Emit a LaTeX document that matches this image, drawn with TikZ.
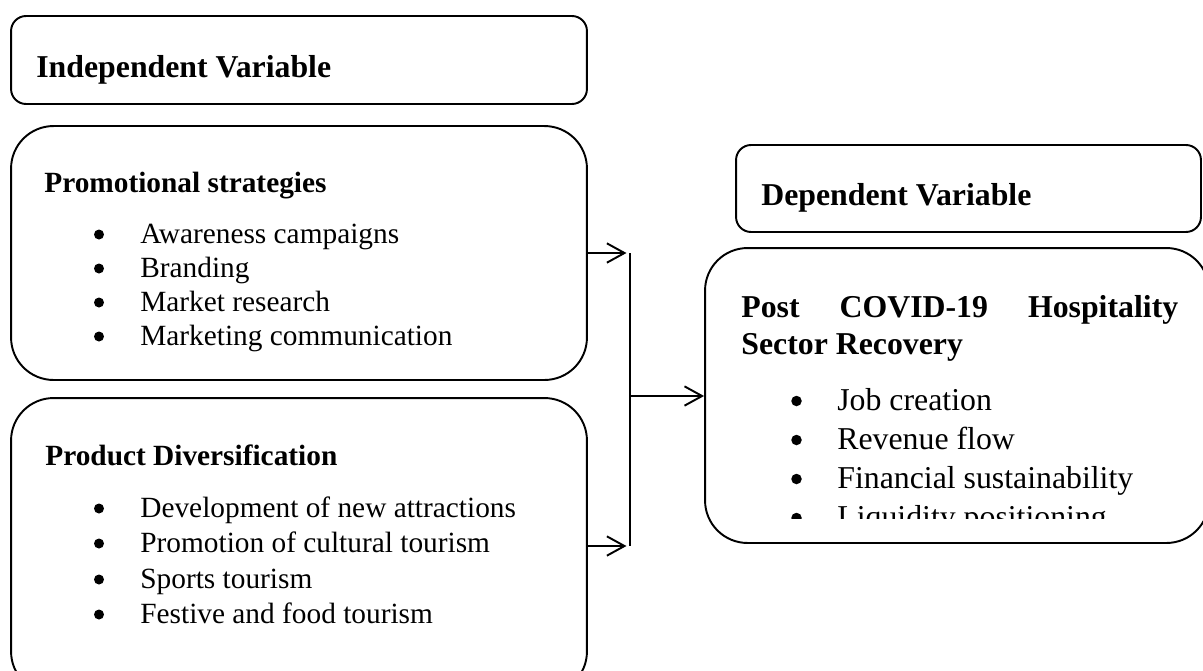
\documentclass[tikz,border=0pt]{standalone}
\usepackage{fontspec}
\setmainfont{Liberation Serif}
\usetikzlibrary{arrows.meta}

\begin{document}
\begin{tikzpicture}[
    x=0.02cm, y=-0.02cm,
    caja/.style={draw, line width=1.1pt, rounded corners=0.3cm},
    bloque/.style={draw, line width=1.1pt, rounded corners=0.85cm},
    titulo/.style={anchor=base west, inner sep=0pt, font=\bfseries\fontsize{18.1}{22}\selectfont},
    subtitulo/.style={anchor=base west, inner sep=0pt, font=\bfseries\fontsize{16.7}{20}\selectfont},
    punto/.style={anchor=base west, inner sep=0pt, font=\fontsize{16.7}{20}\selectfont},
    puntog/.style={anchor=base west, inner sep=0pt, font=\fontsize{18.1}{22}\selectfont},
    flecha/.style={-{Straight Barb[length=10pt, width=11pt]}, line width=1.1pt}
]
\clip (0,0) rectangle (1203,670);

% variable independiente
\node[caja, minimum width=11.52cm, minimum height=1.76cm] (vi) at (299,60) {};
\node[titulo] (tvi) at (36,77) {Independent Variable};

\node[bloque, minimum width=11.52cm, minimum height=5.08cm] (prom) at (299,253) {};
\node[subtitulo] (tprom) at (44,192) {Promotional strategies};
\node[punto] (p1) at (140,243) {Awareness campaigns};
\node[punto] (p2) at (140,277) {Branding};
\node[punto] (p3) at (140,311) {Market research};
\node[punto] (p4) at (140,345) {Marketing communication};

\node[bloque, minimum width=11.52cm, minimum height=5.92cm] (prod) at (299,546) {};
\node[subtitulo] (tprod) at (45,465) {Product Diversification};
\node[punto] (d1) at (140,517) {Development of new attractions};
\node[punto] (d2) at (140,552) {Promotion of cultural tourism};
\node[punto] (d3) at (140,588) {Sports tourism};
\node[punto] (d4) at (140,623) {Festive and food tourism};

% variable dependiente
\node[caja, minimum width=9.3cm, minimum height=1.74cm] (vd) at (968.5,188.5) {};
\node[titulo] (tvd) at (761,205) {Dependent Variable};

\node[bloque, minimum width=10.08cm, minimum height=5.9cm] (post) at (957,395.5) {};
\node[titulo] (tpost1) at (741,317) {\makebox[8.74cm][s]{Post\hfill COVID-19\hfill Hospitality}};
\node[titulo] (tpost2) at (741,354) {Sector Recovery};
\node[puntog] (r1) at (837,410) {Job creation};
\node[puntog] (r2) at (837,449) {Revenue flow};
\node[puntog] (r3) at (837,488) {Financial sustainability};
\begin{scope}
\clip (700,250) rectangle (1203,518);
\node[puntog] (r4) at (837,527) {Liquidity positioning};
\fill (796.5,518) circle[radius=0.105cm];
\end{scope}

% vinetas
\foreach \y in {243,277,311,345,517,552,588,623}
    \fill (99,\y-8.5) circle[radius=0.1cm];
\foreach \y in {410,449,488}
    \fill (796.5,\y-9) circle[radius=0.105cm];

% conectores
\coordinate (bt) at (630,253);
\coordinate (bm) at (630,396);
\coordinate (bb) at (630,546);
\draw[line width=0.6pt] (bt) -- (bb);
\draw[flecha, shorten >=2pt] (prom) -- (prom -| bt);
\draw[flecha, shorten >=2pt] (prod) -- (prod -| bb);
\draw[flecha] (bm) -- (bm -| post.west);
\end{tikzpicture}
\end{document}
